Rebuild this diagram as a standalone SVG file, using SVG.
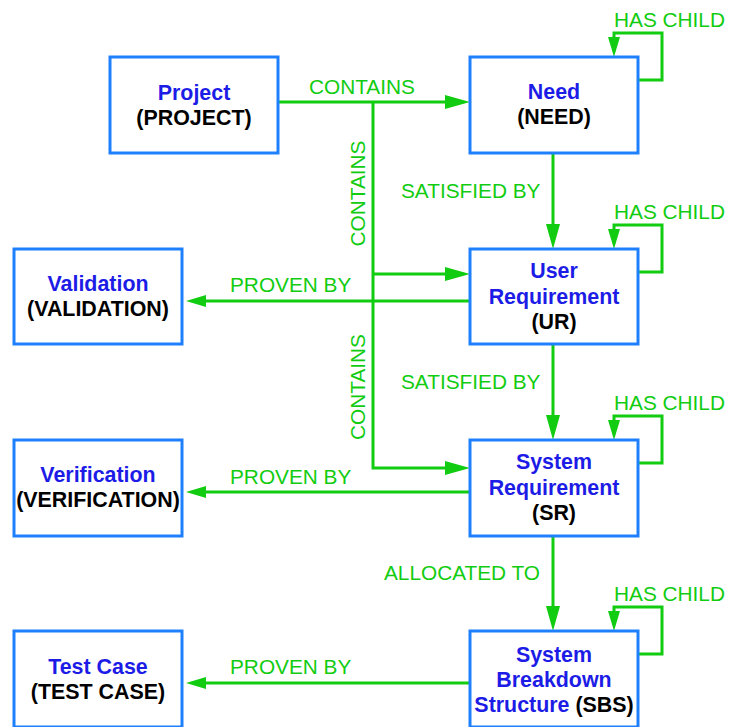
<svg xmlns="http://www.w3.org/2000/svg" width="731" height="727" viewBox="0 0 731 727">
<style>
.box{fill:#fff;stroke:#1f80ff;stroke-width:3}
.t{font-family:"Liberation Sans",Arial,sans-serif;font-weight:bold;font-size:21.4px;text-anchor:middle}
.n{fill:#1c1ce6}
.c{fill:#000}
.lbl{font-family:"Liberation Sans",Arial,sans-serif;font-size:20.8px;fill:#11cc11}
.ln{fill:none;stroke:#11cc11;stroke-width:3}
</style>
<defs>
<marker id="big" markerUnits="userSpaceOnUse" markerWidth="26" markerHeight="16" refX="0" refY="7" orient="auto"><path d="M0,0 L25,7 L0,14 Z" fill="#11cc11"/></marker>
<marker id="sm" markerUnits="userSpaceOnUse" markerWidth="21" markerHeight="13" refX="0" refY="6" orient="auto"><path d="M0,0 L20,6 L0,12 Z" fill="#11cc11"/></marker>
</defs>
<rect width="731" height="727" fill="#fff"/>
<g id="connectors">
<path class="ln" d="M278,102 H445" marker-end="url(#big)"/>
<path class="ln" d="M373,102 V468 H445" marker-end="url(#big)"/>
<path class="ln" d="M373,274 H445" marker-end="url(#big)"/>
<path class="ln" d="M553,153 V224" marker-end="url(#big)"/>
<path class="ln" d="M553,344 V415" marker-end="url(#big)"/>
<path class="ln" d="M553,536 V606" marker-end="url(#big)"/>
<path class="ln" d="M470,301 H206" marker-end="url(#sm)"/>
<path class="ln" d="M470,492 H206" marker-end="url(#sm)"/>
<path class="ln" d="M470,683 H206" marker-end="url(#sm)"/>
<path class="ln" d="M638,80 H662 V33 H614 V37" marker-end="url(#sm)"/>
<path class="ln" d="M638,272 H662 V225 H614 V229" marker-end="url(#sm)"/>
<path class="ln" d="M638,463 H662 V416 H614 V420" marker-end="url(#sm)"/>
<path class="ln" d="M638,654 H662 V607 H614 V611" marker-end="url(#sm)"/>
<text class="lbl" x="309" y="94">CONTAINS</text>
<text class="lbl" transform="translate(365,193.5) rotate(-90)" text-anchor="middle">CONTAINS</text>
<text class="lbl" transform="translate(365,387) rotate(-90)" text-anchor="middle">CONTAINS</text>
<text class="lbl" x="401" y="198">SATISFIED BY</text>
<text class="lbl" x="401" y="389">SATISFIED BY</text>
<text class="lbl" x="384" y="580">ALLOCATED TO</text>
<text class="lbl" x="230" y="292">PROVEN BY</text>
<text class="lbl" x="230" y="484">PROVEN BY</text>
<text class="lbl" x="230" y="674">PROVEN BY</text>
<text class="lbl" x="614" y="27">HAS CHILD</text>
<text class="lbl" x="614" y="219">HAS CHILD</text>
<text class="lbl" x="614" y="410">HAS CHILD</text>
<text class="lbl" x="614" y="601">HAS CHILD</text>
</g>
<g id="project"><rect class="box" x="110" y="57" width="168" height="96"/><text class="t" x="194"><tspan class="n" x="194" y="100">Project</tspan><tspan class="c" x="194" y="125">(PROJECT)</tspan></text></g>
<g id="need"><rect class="box" x="470" y="57" width="168" height="96"/><text class="t"><tspan class="n" x="554" y="99">Need</tspan><tspan class="c" x="554" y="124">(NEED)</tspan></text></g>
<g id="ur"><rect class="box" x="470" y="249" width="168" height="95"/><text class="t"><tspan class="n" x="554" y="278">User</tspan><tspan class="n" x="554" y="304">Requirement</tspan><tspan class="c" x="554" y="329">(UR)</tspan></text></g>
<g id="validation"><rect class="box" x="14" y="249" width="168" height="95"/><text class="t"><tspan class="n" x="98" y="291">Validation</tspan><tspan class="c" x="98" y="316">(VALIDATION)</tspan></text></g>
<g id="sr"><rect class="box" x="470" y="440" width="168" height="96"/><text class="t"><tspan class="n" x="554" y="469">System</tspan><tspan class="n" x="554" y="495">Requirement</tspan><tspan class="c" x="554" y="520">(SR)</tspan></text></g>
<g id="verification"><rect class="box" x="14" y="440" width="168" height="96"/><text class="t"><tspan class="n" x="98" y="482">Verification</tspan><tspan class="c" x="98" y="507">(VERIFICATION)</tspan></text></g>
<g id="sbs"><rect class="box" x="470" y="631" width="168" height="96"/><text class="t"><tspan class="n" x="554" y="662">System</tspan><tspan class="n" x="554" y="687">Breakdown</tspan><tspan x="554" y="712"><tspan class="n">Structure </tspan><tspan class="c">(SBS)</tspan></tspan></text></g>
<g id="testcase"><rect class="box" x="14" y="631" width="168" height="96"/><text class="t"><tspan class="n" x="98" y="674">Test Case</tspan><tspan class="c" x="98" y="699">(TEST CASE)</tspan></text></g>
</svg>
